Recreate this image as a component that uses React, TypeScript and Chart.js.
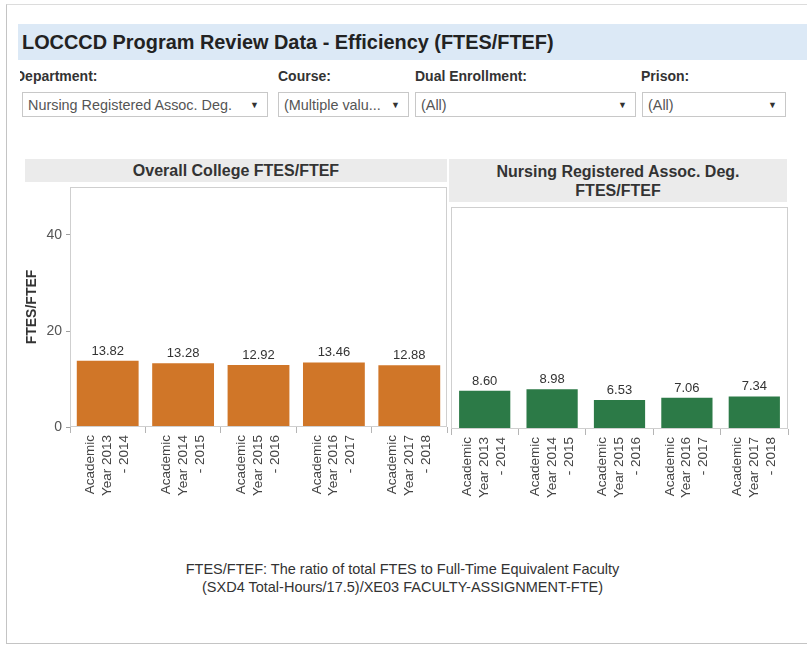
import React, { useEffect, useRef } from "react";
import { Chart, registerables } from "chart.js";

Chart.register(...registerables);

// ---------- data ----------
const yearLabels: string[][] = [
  ["Academic", "Year 2013", "- 2014"],
  ["Academic", "Year 2014", "- 2015"],
  ["Academic", "Year 2015", "- 2016"],
  ["Academic", "Year 2016", "- 2017"],
  ["Academic", "Year 2017", "- 2018"],
];
const collegeValues = [13.82, 13.28, 12.92, 13.46, 12.88];
const programValues = [8.6, 8.98, 6.53, 7.06, 7.34];
const yTickValues = [0, 20, 40];
const yMax = 50;

const TITLE = "LOCCCD Program Review Data - Efficiency (FTES/FTEF)";
const LEFT_HEADER = "Overall College FTES/FTEF";
const RIGHT_HEADER = ["Nursing Registered Assoc. Deg.", "FTES/FTEF"];
const FOOTER = [
  "FTES/FTEF: The ratio of total FTES to Full-Time Equivalent Faculty",
  "(SXD4 Total-Hours/17.5)/XE03 FACULTY-ASSIGNMENT-FTE)",
];
const filters = [
  { label: "Department:", value: "Nursing Registered Assoc. Deg." },
  { label: "Course:", value: "(Multiple valu..." },
  { label: "Dual Enrollment:", value: "(All)" },
  { label: "Prison:", value: "(All)" },
];

const FONT = "'Liberation Sans', Arial, sans-serif";
const ORANGE = "#d07628";
const GREEN = "#2c7a47";

const valueLabelPlugin = {
  id: "valueLabels",
  afterDatasetsDraw(chart: any) {
    const ctx = chart.ctx;
    ctx.save();
    ctx.font = `13px ${FONT}`;
    ctx.fillStyle = "#333";
    ctx.textAlign = "center";
    ctx.textBaseline = "alphabetic";
    chart.data.datasets.forEach((ds: any, di: number) => {
      const meta = chart.getDatasetMeta(di);
      meta.data.forEach((el: any, i: number) => {
        ctx.fillText(Number(ds.data[i]).toFixed(2), el.x, el.y - 6);
      });
    });
    ctx.restore();
  },
};

const framePlugin = {
  id: "frame",
  afterDraw(chart: any) {
    const { ctx, chartArea } = chart;
    ctx.save();
    ctx.strokeStyle = "#cfcfcf";
    ctx.lineWidth = 1;
    ctx.strokeRect(
      Math.round(chartArea.left) + 0.5,
      Math.round(chartArea.top) + 0.5,
      Math.round(chartArea.right - chartArea.left) - 1,
      Math.round(chartArea.bottom - chartArea.top) - 1
    );
    ctx.restore();
  },
};

function makeConfig(values: number[], color: string, showY: boolean, barPct: number, padding: any): any {
  return {
    type: "bar",
    data: {
      labels: yearLabels,
      datasets: [
        {
          data: values,
          backgroundColor: color,
          borderWidth: 0,
          barPercentage: barPct,
          categoryPercentage: 1,
        },
      ],
    },
    options: {
      responsive: false,
      animation: false,
      devicePixelRatio: 1,
      layout: { padding },
      plugins: { legend: { display: false }, tooltip: { enabled: false } },
      scales: {
        x: {
          afterFit: (s: any) => {
            s.height = 110;
            s.paddingLeft = 0;
            s.paddingRight = 0;
          },
          grid: {
            offset: true,
            drawOnChartArea: false,
            drawTicks: true,
            tickLength: 6,
            color: "#b5b5b5",
          },
          border: { display: false },
          ticks: {
            autoSkip: false,
            minRotation: 90,
            maxRotation: 90,
            padding: 2,
            labelOffset: -17,
            color: "#444",
            font: { family: FONT, size: 13.5, lineHeight: 1.25 },
          },
        },
        y: {
          display: showY,
          min: 0,
          max: yMax,
          afterFit: (s: any) => {
            s.width = showY ? 50 : 0;
            s.paddingTop = 0;
            s.paddingBottom = 0;
          },
          afterBuildTicks: (s: any) => {
            s.ticks = yTickValues.map((v) => ({ value: v }));
          },
          grid: {
            drawOnChartArea: false,
            drawTicks: true,
            tickLength: 4,
            color: "#a0a0a0",
          },
          border: { display: false },
          ticks: {
            padding: 4,
            color: "#555",
            font: { family: FONT, size: 14 },
          },
          title: {
            display: true,
            text: "FTES/FTEF",
            color: "#333",
            font: { family: FONT, size: 14, weight: "bold" },
            padding: { top: 4, bottom: 0 },
          },
        },
      },
    },
    plugins: [valueLabelPlugin, framePlugin],
  };
}

function BarCanvas(props: {
  values: number[];
  color: string;
  showY: boolean;
  barPct: number;
  padding: any;
  left: number;
  top: number;
  width: number;
  height: number;
}) {
  const ref = useRef<HTMLCanvasElement | null>(null);
  useEffect(() => {
    if (!ref.current) return;
    const chart = new Chart(
      ref.current,
      makeConfig(props.values, props.color, props.showY, props.barPct, props.padding)
    );
    return () => chart.destroy();
  }, []);
  return (
    <canvas
      ref={ref}
      width={props.width}
      height={props.height}
      style={{
        position: "absolute",
        left: props.left,
        top: props.top,
        width: props.width,
        height: props.height,
      }}
    />
  );
}

const filterLayout = [
  { labelLeft: 20, boxLeft: 22, boxWidth: 246, clip: 5 },
  { labelLeft: 278, boxLeft: 278, boxWidth: 131, clip: 0 },
  { labelLeft: 415, boxLeft: 415, boxWidth: 221, clip: 0 },
  { labelLeft: 641, boxLeft: 642, boxWidth: 144, clip: 0 },
];

export default function App() {
  return (
    <div
      style={{
        position: "fixed",
        left: 0,
        top: 0,
        width: 807,
        height: 648,
        overflow: "hidden",
        background: "#fff",
        fontFamily: FONT,
      }}
    >
      {/* outer frame */}
      <div
        style={{
          position: "absolute",
          left: 6,
          top: 4,
          width: 801,
          height: 640,
          borderLeft: "1px solid #c4c4c4",
          borderTop: "1px solid #dcdcdc",
          borderBottom: "1px solid #c4c4c4",
          boxSizing: "border-box",
        }}
      />
      {/* title band */}
      <div
        style={{
          position: "absolute",
          left: 18,
          top: 24,
          width: 789,
          height: 36,
          background: "#dce9f6",
          color: "#222",
          fontWeight: "bold",
          fontSize: 19.9,
          lineHeight: "36px",
          paddingLeft: 4,
          boxSizing: "border-box",
          whiteSpace: "nowrap",
        }}
      >
        {TITLE}
      </div>
      {/* filters */}
      {filters.map((f, i) => {
        const L = filterLayout[i];
        return (
          <React.Fragment key={i}>
            <div
              style={{
                position: "absolute",
                left: L.labelLeft,
                top: 68,
                height: 16,
                width: 200,
                overflow: "hidden",
                whiteSpace: "nowrap",
                fontSize: 14,
                fontWeight: "bold",
                lineHeight: "16px",
                color: "#333",
              }}
            >
              <span style={{ marginLeft: -L.clip }}>{f.label}</span>
            </div>
            <div
              style={{
                position: "absolute",
                left: L.boxLeft,
                top: 92,
                width: L.boxWidth,
                height: 25,
                border: "1px solid #c8c8c8",
                boxSizing: "border-box",
                display: "flex",
                alignItems: "center",
                justifyContent: "space-between",
                padding: "0 8px 0 5px",
                fontSize: 14.4,
                color: "#555",
                whiteSpace: "nowrap",
                background: "#fff",
              }}
            >
              <span>{f.value}</span>
              <span style={{ fontSize: 9, color: "#333" }}>▼</span>
            </div>
          </React.Fragment>
        );
      })}
      {/* panel headers */}
      <div
        style={{
          position: "absolute",
          left: 25,
          top: 159,
          width: 422,
          height: 23,
          background: "#ebebeb",
          textAlign: "center",
          fontWeight: "bold",
          fontSize: 16,
          lineHeight: "23px",
          color: "#333",
        }}
      >
        {LEFT_HEADER}
      </div>
      <div
        style={{
          position: "absolute",
          left: 449,
          top: 159,
          width: 338,
          height: 43,
          background: "#ebebeb",
          textAlign: "center",
          fontWeight: "bold",
          fontSize: 16,
          lineHeight: "19px",
          paddingTop: 3,
          boxSizing: "border-box",
          color: "#333",
        }}
      >
        {RIGHT_HEADER.map((t, i) => (
          <div key={i}>{t}</div>
        ))}
      </div>
      {/* charts */}
      <BarCanvas
        values={collegeValues}
        color={ORANGE}
        showY={true}
        barPct={0.82}
        padding={{ top: 10, right: 3, left: 0, bottom: 0 }}
        left={20}
        top={177}
        width={430}
        height={360}
      />
      <BarCanvas
        values={programValues}
        color={GREEN}
        showY={false}
        barPct={0.76}
        padding={{ top: 10, right: 2, left: 2, bottom: 0 }}
        left={449}
        top={197}
        width={341}
        height={342}
      />
      {/* footer */}
      <div
        style={{
          position: "absolute",
          left: 0,
          top: 560,
          width: 805,
          textAlign: "center",
          fontSize: 14.5,
          lineHeight: "18px",
          color: "#333",
        }}
      >
        {FOOTER.map((t, i) => (
          <div key={i}>{t}</div>
        ))}
      </div>
    </div>
  );
}
